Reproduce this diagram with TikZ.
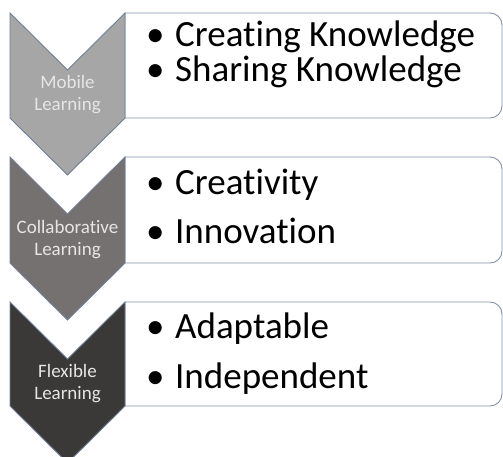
\documentclass[tikz,border=0pt]{standalone}
\usepackage{fontspec}
\setmainfont{Carlito}[Ligatures=NoCommon]
\usetikzlibrary{positioning}
\definecolor{chevlight}{HTML}{A6A6A6}
\definecolor{chevmid}{HTML}{767171}
\definecolor{chevdark}{HTML}{3B3838}
\definecolor{chevedge}{HTML}{6F7F98}
\definecolor{boxedge}{HTML}{8393AA}
\definecolor{labelgray}{HTML}{E6E6E6}
\tikzset{
	chevron/.style={
			draw=chevedge,
			line width=0.9pt,
			line join=miter
		},
	itembox/.style={
			draw=boxedge,
			fill=white,
			line width=0.9pt
		},
	itemtext/.style={
			anchor=base west,
			inner sep=0pt,
			text=black,
			font=\fontsize{37}{37}\selectfont
		},
	steplabel/.style={
			align=center,
			inner sep=0pt,
			text=labelgray,
			font=\fontsize{19}{22}\selectfont
		}
}
\newcommand{\itembullet}{\makebox[29pt][l]{\textbullet}}

\begin{document}
\begin{tikzpicture}[x=1pt,y=-1pt]
  \useasboundingbox (0,0) rectangle (503,457);

  % boxes first, only the right corners are round
  \draw[itembox] (200,13) [rounded corners=12pt] -- (502,13) -- (502,118) -- (200,118) [sharp corners] -- (125,118) -- (125,13) -- cycle;
  \draw[itembox] (200,157) [rounded corners=12pt] -- (502,157) -- (502,263) -- (200,263) [sharp corners] -- (125,263) -- (125,157) -- cycle;
  \draw[itembox] (200,302) [rounded corners=12pt] -- (502,302) -- (502,406) -- (200,406) [sharp corners] -- (125,406) -- (125,302) -- cycle;

  \draw[chevron, fill=chevlight] (10,13) -- (67.5,70) -- (125,13) -- (125,118) -- (67.5,175) -- (10,118) -- cycle;
  \draw[chevron, fill=chevmid] (10,157) -- (67.5,214) -- (125,157) -- (125,263) -- (67.5,320) -- (10,263) -- cycle;
  \draw[chevron, fill=chevdark] (10,302) -- (67.5,359) -- (125,302) -- (125,406) -- (67.5,463) -- (10,406) -- cycle;

  \node[steplabel] (mobile) at (67.5,95) {Mobile\\Learning};
  \node[steplabel] (collab) at (67.5,240) {Collaborative\\Learning};
  \node[steplabel] (flex) at (67.5,384) {Flexible\\Learning};

  \node[itemtext] (create) at (146,47) {\itembullet Creating Knowledge};
  \node[itemtext] (share) at (146,82) {\itembullet Sharing Knowledge};
  \node[itemtext] (creativ) at (146,195) {\itembullet Creativity};
  \node[itemtext] (innov) at (146,243) {\itembullet Innovation};
  \node[itemtext] (adapt) at (146,338) {\itembullet Adaptable};
  \node[itemtext] (indep) at (146,388) {\itembullet Independent};
\end{tikzpicture}
\end{document}
